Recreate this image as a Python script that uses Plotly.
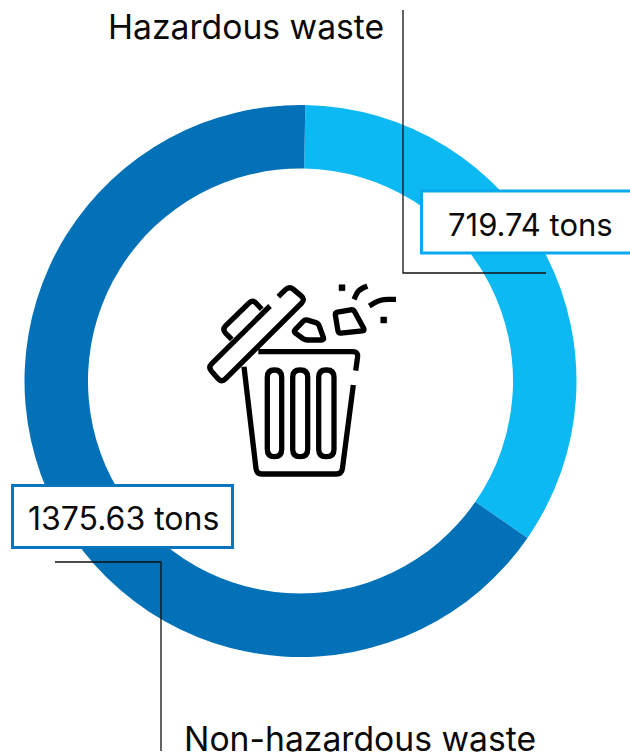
import math
import plotly.graph_objects as go

W, H = 630, 755
categories = ["Hazardous waste", "Non-hazardous waste"]
values = [719.74, 1375.63]
unit = "tons"
colors = ["#0DB9F2", "#0371B8"]
FONT = "Inter"

def zp(points, close=False, r=10):
    pts = [(190+x/3, 270+y/3) for x, y in points]
    r = r/3
    n = len(pts)
    def toward(a, b, d):
        L = math.hypot(b[0]-a[0], b[1]-a[1]) or 1
        d = min(d, L/2)
        return (a[0]+(b[0]-a[0])*d/L, a[1]+(b[1]-a[1])*d/L)
    out = []
    idx = range(n) if close else range(1, n-1)
    if not close:
        out.append(f"M{pts[0][0]:.1f},{pts[0][1]:.1f}")
    for i in idx:
        p, a, b = pts[i], pts[i-1], pts[(i+1) % n]
        s, e = toward(p, a, r), toward(p, b, r)
        out.append(("L" if out else "M") + f"{s[0]:.1f},{s[1]:.1f} Q{p[0]:.1f},{p[1]:.1f} {e[0]:.1f},{e[1]:.1f}")
    out.append(" Z" if close else f"L{pts[-1][0]:.1f},{pts[-1][1]:.1f}")
    return " ".join(out)

fig = go.Figure(go.Pie(
    labels=categories, values=values, hole=0.77, sort=False, direction="clockwise",
    rotation=1, textinfo="none", hoverinfo="label+value",
    marker=dict(colors=colors, line=dict(width=0)),
    domain=dict(x=[24.5/W, 576.5/W], y=[(H-657)/H, (H-105)/H]), showlegend=False))

shapes = []
def line_path(path, width=1.3, color="#111111", fill=None):
    shapes.append(dict(type="path", path=path, xref="x", yref="y", layer="above",
                       line=dict(color=color, width=width), fillcolor=fill or "rgba(0,0,0,0)"))

# leader lines
line_path("M403,10 L403,273 L546,273")
line_path("M55,562 L161,562 L161,751")
# value boxes
shapes.append(dict(type="rect", xref="x", yref="y", x0=421.5, x1=640, y0=191, y1=253, layer="above",
                   line=dict(color="#0AA8EC", width=3), fillcolor="white"))
shapes.append(dict(type="rect", xref="x", yref="y", x0=12.5, x1=232.5, y0=485.5, y1=547.5, layer="above",
                   line=dict(color="#0A75BC", width=3), fillcolor="white"))

# bin icon
IC = 5.3
for p in [
    [(205,245),(505,245),(497,302)],
    [(490,345),(455,612),(200,612),(162,290)],
    [(265,80),(298,48),(346,88),(95,338),(54,292),(240,108)],
    [(215,118),(188,88),(96,178),(125,208)],
]:
    line_path(zp(p, r=16), IC, "#000000")
for p in [
    [(345,148),(385,160),(403,210),(345,210),(310,185)],
    [(435,128),(490,118),(525,182),(445,190)],
]:
    line_path(zp(p, True, r=8), IC, "#000000")
for x0, x1 in [(232,275),(308,353),(386,432)]:
    line_path(zp([(x0,300),(x1,300),(x1,560),(x0,560)], True, r=22), IC, "#000000")
line_path(zp([(492,88),(505,60),(532,48)], r=20), IC, "#000000")
line_path(zp([(538,108),(570,88),(618,88)], r=25), IC, "#000000")
for cx, cy in [(456,53),(581,150)]:
    line_path(zp([(cx-9,cy-9),(cx+9,cy-9),(cx+9,cy+9),(cx-9,cy+9)], True, r=1), 0.5, "#000000", "#000000")

def txt(x, y, s, anchor, size):
    return dict(x=x, y=y, xref="x", yref="y", text=s, showarrow=False, xanchor=anchor, yanchor="middle",
                font=dict(family=FONT, size=size, color="#0a0a0a"))

annotations = [
    txt(386, 26, categories[0], "right", 33.7),
    txt(182, 738, categories[1], "left", 33.7),
    txt(446, 224, f"{values[0]} {unit}", "left", 31),
    txt(26, 518, f"{values[1]} {unit}", "left", 32),
]

fig.update_layout(
    width=W, height=H, margin=dict(l=0, r=0, t=0, b=0),
    paper_bgcolor="white", plot_bgcolor="rgba(0,0,0,0)",
    xaxis=dict(range=[0, W], visible=False, fixedrange=True),
    yaxis=dict(range=[H, 0], visible=False, fixedrange=True),
    shapes=shapes, annotations=annotations)
fig.add_trace(go.Scatter(x=[], y=[], showlegend=False))
fig.write_html("out.html", config={"displayModeBar": False},
               default_width="630px", default_height="755px",
               post_script="document.body.style.margin='0';document.documentElement.style.overflow='hidden';")
